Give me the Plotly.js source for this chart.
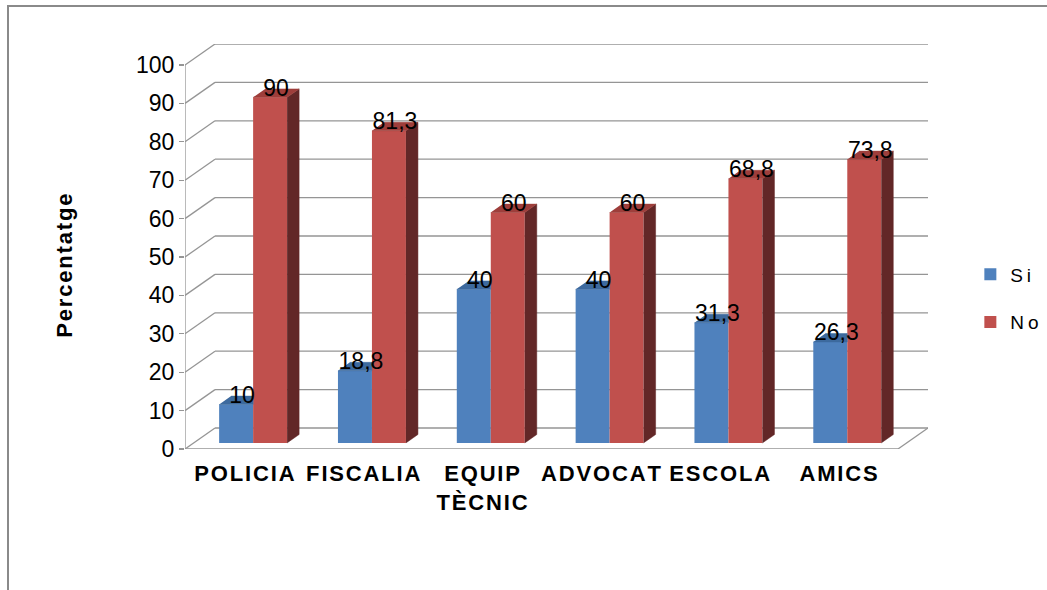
<!DOCTYPE html>
<html>
<head>
<meta charset="utf-8">
<script src="https://cdn.plot.ly/plotly-3.0.1.min.js"></script>
<style>
  html, body { margin: 0; padding: 0; background: #fff; }
  #wrap { position: relative; width: 1047px; height: 590px; overflow: hidden; }
  #chart { position: absolute; left: 0; top: 0; width: 1047px; height: 590px; }
  #frame { position: absolute; left: 7px; top: 5px; width: 1100px; height: 700px;
           border-left: 2px solid #8a8a8a; border-top: 2px solid #8a8a8a; pointer-events: none; }
</style>
</head>
<body>
<div id="wrap"><div id="chart"></div><div id="frame"></div></div>
<script>
// ---- data ----
const categories = ['POLICIA', 'FISCALIA', 'EQUIP TÈCNIC', 'ADVOCAT', 'ESCOLA', 'AMICS'];
const tickLabels = ['POLICIA', 'FISCALIA', 'EQUIP<br>TÈCNIC', 'ADVOCAT', 'ESCOLA', 'AMICS'];
const seriesNames = ['Si', 'No'];
const siValues = [10, 18.8, 40, 40, 31.3, 26.3];
const noValues = [90, 81.3, 60, 60, 68.8, 73.8];
const yTicks = [0, 10, 20, 30, 40, 50, 60, 70, 80, 90, 100];
const yTitle = 'Percentatge';

// ---- styling / geometry (3D look) ----
const FONT = 'Liberation Sans, Arial, sans-serif';
const DX = 0.2525, DY = 5.47;      // full depth of the box, in axis units
const A = 0.29, B = 0.69;          // bar depth span as fraction of full depth
const W = 0.286;                   // bar width (category units)
const dxb = (B - A) * DX, dyb = (B - A) * DY;
const grid = '#959595';
const colors = {
  Si: { front: '#4f81bd', top: '#3d6a9e', side: '#2e5380' },
  No: { front: '#c0504d', top: '#9e3e3b', side: '#622727' }
};

const HS = '\u200A', TS = '\u2009';
const spaced = (s, sp) => s.split('<br>').map(l => l.split('').join(sp)).join('<br>');
const fmt = v => String(v).replace('.', ',');
const n = categories.length;
const xs = categories.map((c, i) => i + 0.5 + A * DX);

const traces = [];
// front faces as real bars
[[siValues, seriesNames[0], -W], [noValues, seriesNames[1], 0]].forEach(([vals, name, off]) => {
  traces.push({
    type: 'bar', name: spaced(name, TS), x: xs, y: vals, base: A * DY,
    width: W, offset: off, legendgroup: name,
    marker: { color: colors[name].front, line: { width: 0 } },
    hoverinfo: 'skip'
  });
});

function poly(pointsList, color) {
  const x = [], y = [];
  pointsList.forEach(pts => { pts.forEach(p => { x.push(p[0]); y.push(p[1]); }); x.push(null); y.push(null); });
  return { type: 'scatter', mode: 'lines', x, y, fill: 'toself', fillcolor: color,
           line: { color: color, width: 0.5 }, showlegend: false, hoverinfo: 'skip', connectgaps: false };
}

// Si top faces (clipped by the No bar in front of them)
traces.push(poly(siValues.map((v, i) => {
  const x1 = xs[i], x0 = x1 - W, yt = v + A * DY;
  return [[x0, yt], [x1, yt], [x1, yt + dyb], [x0 + dxb, yt + dyb]];
}), colors.Si.top));
// No side faces
traces.push(poly(noValues.map((v, i) => {
  const x1 = xs[i] + W, yb = A * DY, yt = v + A * DY;
  return [[x1, yb], [x1 + dxb, yb + dyb], [x1 + dxb, yt + dyb], [x1, yt]];
}), colors.No.side));
// No top faces
traces.push(poly(noValues.map((v, i) => {
  const x0 = xs[i], x1 = x0 + W, yt = v + A * DY;
  return [[x0, yt], [x1, yt], [x1 + dxb, yt + dyb], [x0 + dxb, yt + dyb]];
}), colors.No.top));

// data labels
[[siValues, -W], [noValues, 0]].forEach(([vals, off]) => {
  traces.push({
    type: 'scatter', mode: 'text', showlegend: false, hoverinfo: 'skip', cliponaxis: false,
    x: xs.map(x => x + off + W / 2 + dxb / 2),
    y: vals.map(v => v + A * DY + dyb / 2 + 0.8),
    text: vals.map(fmt), textposition: 'middle center',
    textfont: { family: FONT, size: 23, color: '#000' }
  });
});

// walls / floor grid as shapes below the traces
const shapes = [];
const ln = (x0, y0, x1, y1) => ({ type: 'line', xref: 'x', yref: 'y', layer: 'below', x0, y0, x1, y1,
                                   line: { color: grid, width: 1.3 } });
yTicks.forEach(v => {
  shapes.push(ln(DX, v + DY, n + DX, v + DY));
  shapes.push(ln(0, v, DX, v + DY));
});
shapes.push(ln(0, 0, 0, yTicks[yTicks.length - 1]));
shapes.push(ln(0, 0, n, 0));
shapes.push(ln(n, 0, n + DX, DY));

const layout = {
  width: 1047, height: 590,
  margin: { l: 185, r: 119, t: 44, b: 141, pad: 0, autoexpand: false },
  paper_bgcolor: '#fff', plot_bgcolor: 'rgba(0,0,0,0)',
  barmode: 'overlay',
  showlegend: true,
  legend: { x: 1.057, xanchor: 'left', y: 0.372, yanchor: 'middle', itemwidth: 30,
            font: { family: FONT, size: 19, color: '#000' },
            traceorder: 'grouped', tracegroupgap: 20, bgcolor: 'rgba(0,0,0,0)' },
  xaxis: { range: [0, n + DX], tickmode: 'array', tickvals: categories.map((c, i) => i + 0.5),
           ticktext: tickLabels.map(s => spaced(s, HS)), ticks: '', tickangle: 0, showgrid: false,
           zeroline: false, showline: false, ticklabelstandoff: 9,
           tickfont: { family: FONT, size: 22, color: '#000', weight: 'bold' }, fixedrange: true },
  yaxis: { range: [0, 100 + DY], tickmode: 'array', tickvals: yTicks, ticks: 'outside', ticklen: 5,
           tickcolor: grid, tickwidth: 1.3, showgrid: false, zeroline: false, showline: false,
           tickfont: { family: FONT, size: 23, color: '#000' }, fixedrange: true },
  annotations: [{
    text: spaced(yTitle, HS), xref: 'paper', yref: 'y', x: -0.1615, y: 47.7,
    xanchor: 'center', yanchor: 'middle', textangle: -90, showarrow: false,
    font: { family: FONT, size: 22, color: '#000', weight: 'bold' }
  }],
  shapes: shapes
};

Plotly.newPlot('chart', traces, layout, { displayModeBar: false, staticPlot: true });
</script>
</body>
</html>
